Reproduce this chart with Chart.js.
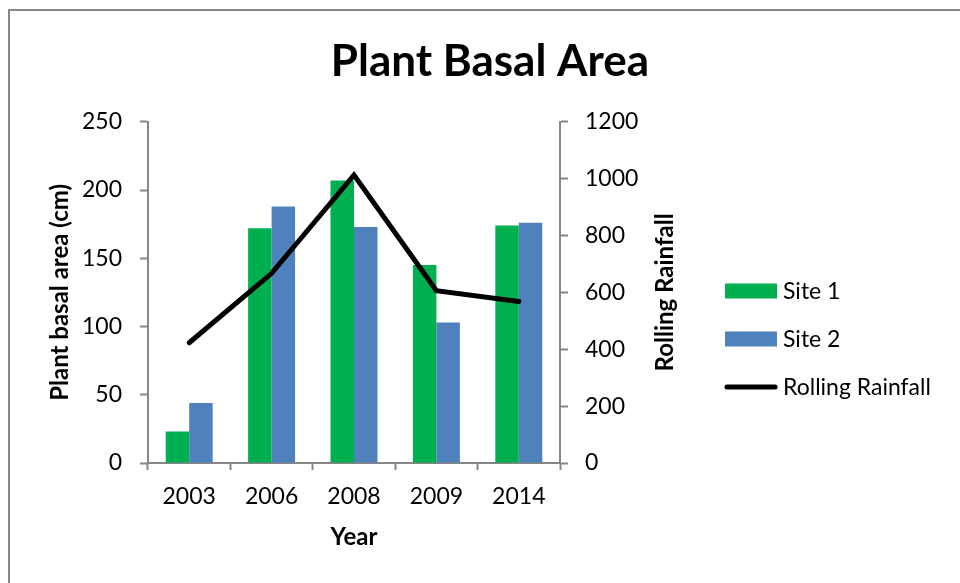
<!DOCTYPE html>
<html>
<head>
<meta charset="utf-8">
<script src="https://cdn.jsdelivr.net/npm/chart.js@4.4.0/dist/chart.umd.min.js"></script>
<style>
  html, body { margin: 0; padding: 0; background: #fff; }
  #wrap { position: relative; width: 960px; height: 583px; overflow: hidden; }
  #frame { position: absolute; left: 8px; top: 9px; width: 1000px; height: 1000px;
           border-top: 2px solid #868686; border-left: 2px solid #868686; }
  canvas { position: absolute; left: 0; top: 0; }
</style>
</head>
<body>
<div id="wrap">
  <div id="frame"></div>
  <canvas id="basalChart" width="960" height="583"></canvas>
</div>
<script>
// data
const years = ["2003", "2006", "2008", "2009", "2014"];
const site1 = [23, 172, 207, 145, 174];
const site2 = [44, 188, 173, 103, 176];
const rollingRainfall = [423, 667, 1013, 606, 568];

const axisGray = "#868686";
const fontFamily = "Lato, 'Open Sans', sans-serif";

// right axis title reads bottom-to-top like the original, so draw it ourselves
const rightTitlePlugin = {
  id: "rightTitle",
  afterDraw(chart) {
    const ctx = chart.ctx;
    const area = chart.chartArea;
    ctx.save();
    ctx.translate(665, (area.top + area.bottom) / 2);
    ctx.rotate(-Math.PI / 2);
    ctx.font = "bold 24px " + fontFamily;
    ctx.fillStyle = "#000";
    ctx.textAlign = "center";
    ctx.textBaseline = "middle";
    ctx.fillText("Rolling Rainfall", 0, 0);
    ctx.restore();
  }
};

// legend on the right, Excel style (built-in one gets squeezed by the layout)
const sideLegendPlugin = {
  id: "sideLegend",
  afterDraw(chart) {
    const ctx = chart.ctx;
    const x = 725, y0 = 291, step = 48;
    ctx.save();
    ctx.font = "23px " + fontFamily;
    ctx.textBaseline = "middle";
    ctx.textAlign = "left";
    chart.data.datasets.forEach((ds, i) => {
      const y = y0 + i * step;
      if (ds.type === "line") {
        ctx.strokeStyle = ds.borderColor;
        ctx.lineWidth = ds.borderWidth;
        ctx.lineCap = "round";
        ctx.beginPath();
        ctx.moveTo(x + 2, y);
        ctx.lineTo(x + 50, y);
        ctx.stroke();
      } else {
        ctx.fillStyle = ds.backgroundColor;
        ctx.fillRect(x, y - 7.5, 52, 15);
      }
      ctx.fillStyle = "#000";
      ctx.fillText(ds.label, x + 58, y + 1);
    });
    ctx.restore();
  }
};

const ctx = document.getElementById("basalChart").getContext("2d");

new Chart(ctx, {
  type: "bar",
  data: {
    labels: years,
    datasets: [
      {
        label: "Site 1",
        data: site1,
        backgroundColor: "#00B050",
        borderWidth: 0,
        yAxisID: "y",
        order: 1,
      },
      {
        label: "Site 2",
        data: site2,
        backgroundColor: "#4F81BD",
        borderWidth: 0,
        yAxisID: "y",
        order: 1,
      },
      {
        type: "line",
        label: "Rolling Rainfall",
        data: rollingRainfall,
        borderColor: "#000",
        backgroundColor: "#000",
        borderWidth: 5,
        borderCapStyle: "round",
        pointRadius: 0,
        tension: 0,
        yAxisID: "y1",
        order: 0,
      },
    ],
  },
  options: {
    responsive: false,
    animation: false,
    categoryPercentage: 0.57,
    barPercentage: 1.0,
    layout: {
      padding: { left: 20, right: 0, top: 0, bottom: 0 },
    },
    scales: {
      x: {
        offset: true,
        grid: {
          display: true,
          drawOnChartArea: false,
          drawTicks: true,
          tickLength: 7,
          tickWidth: 2,
          tickColor: axisGray,
          offset: true,
        },
        border: { color: axisGray, width: 2 },
        ticks: {
          color: "#000",
          padding: 13,
          font: { family: fontFamily, size: 23 },
        },
        title: {
          display: true,
          text: "Year",
          color: "#000",
          padding: { top: 4, bottom: 31 },
          font: { family: fontFamily, size: 24, weight: "bold" },
        },
        afterFit(scale) {
          scale.height = 120;
        },
      },
      y: {
        type: "linear",
        position: "left",
        min: 0,
        max: 250,
        ticks: {
          stepSize: 50,
          color: "#000",
          padding: 18,
          font: { family: fontFamily, size: 23 },
          callback: (v) => v,
        },
        grid: {
          drawOnChartArea: false,
          tickLength: 8,
          tickWidth: 2,
          tickColor: axisGray,
        },
        border: { color: axisGray, width: 2 },
        title: {
          display: true,
          text: "Plant basal area (cm)",
          color: "#000",
          padding: 26,
          font: { family: fontFamily, size: 24, weight: "bold" },
        },
        afterFit(scale) {
          scale.width = 128;
        },
      },
      y1: {
        type: "linear",
        position: "right",
        min: 0,
        max: 1200,
        ticks: {
          stepSize: 200,
          color: "#000",
          padding: 17,
          font: { family: fontFamily, size: 23 },
          callback: (v) => v,
        },
        grid: {
          drawOnChartArea: false,
          tickLength: 8,
          tickWidth: 2,
          tickColor: axisGray,
        },
        border: { color: axisGray, width: 2 },
        afterFit(scale) {
          // room for the right title and the legend
          scale.width = 400;
        },
      },
    },
    plugins: {
      title: {
        display: true,
        text: "Plant Basal Area",
        color: "#000",
        padding: { top: 35, bottom: 34 },
        font: { family: fontFamily, size: 44, weight: "bold" },
      },
      legend: { display: false },
      tooltip: { enabled: false },
    },
  },
  plugins: [rightTitlePlugin, sideLegendPlugin],
});
</script>
</body>
</html>
